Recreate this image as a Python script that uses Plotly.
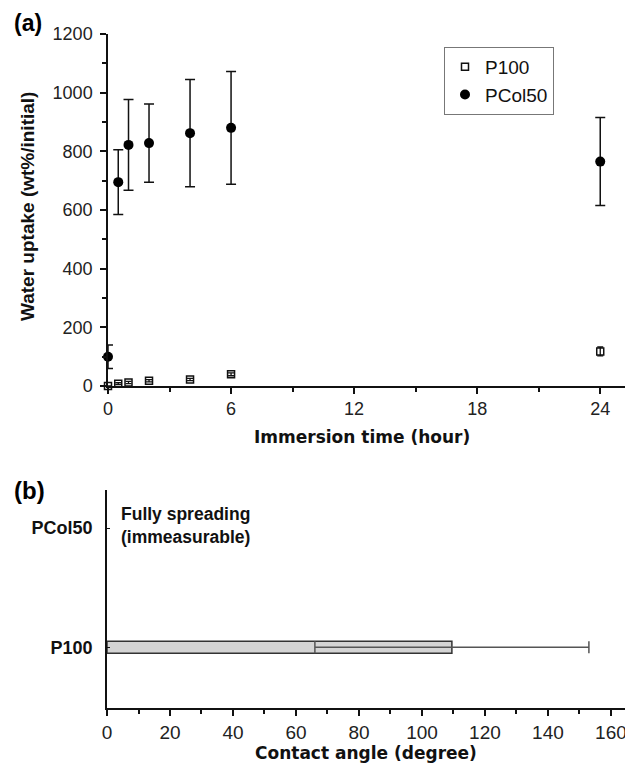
import plotly.graph_objects as go

# ---- data: panel (a) water uptake ----
time_h = [0, 0.5, 1, 2, 4, 6, 24]
pcol50 = [100, 695, 822, 828, 862, 880, 765]
pcol50_err = [40, 110, 155, 133, 183, 192, 150]
p100 = [0, 8, 12, 18, 22, 40, 118]
p100_err = [0, 3, 4, 4, 4, 5, 15]

# ---- data: panel (b) contact angle ----
materials = ["P100", "PCol50"]
contact_angle = [109.5]
contact_err = [43.5]

W, H = 633, 773
OFF = 8  # page body margin offset


def px_x(p):
    return (p - OFF) / W


def px_y(p):
    return 1 - (p - OFF) / H


TICKFONT = dict(family="Liberation Sans, Arial", size=18, color="#222")
TICKFONT_B = dict(family="Liberation Sans, Arial", size=19, color="#222")
TITLEFONT = dict(family="DejaVu Sans, Verdana", size=17, color="#111")

fig = go.Figure()

fig.add_trace(go.Scatter(
    x=time_h, y=p100, mode="markers", name="P100",
    marker=dict(symbol="square-open", size=7, color="#111", line=dict(width=1.5)),
    error_y=dict(type="data", array=p100_err, color="#111", thickness=1.3, width=3),
    xaxis="x", yaxis="y", cliponaxis=False,
))
fig.add_trace(go.Scatter(
    x=time_h, y=pcol50, mode="markers", name="PCol50",
    marker=dict(symbol="circle", size=10, color="#000"),
    error_y=dict(type="data", array=pcol50_err, color="#111", thickness=1.5, width=5),
    xaxis="x", yaxis="y", cliponaxis=False,
))

fig.add_trace(go.Bar(
    y=[materials[0]], x=contact_angle, orientation="h", width=0.1,
    marker=dict(color="#d4d4d4", line=dict(color="#333", width=1.5)),
    error_x=dict(type="data", array=contact_err, color="#555", thickness=1.5, width=6),
    xaxis="x2", yaxis="y2", showlegend=False,
))

axis_common = dict(showline=True, linecolor="#111", linewidth=1.5, showgrid=False,
                   zeroline=False, ticks="outside", tickcolor="#111", tickwidth=1.5,
                   automargin=False)

fig.update_layout(
    width=W, height=H, margin=dict(l=0, r=0, t=0, b=0, autoexpand=False),
    plot_bgcolor="white", paper_bgcolor="white",
    xaxis=dict(domain=[px_x(108), px_x(631)], range=[0, 25.5], tickvals=[0, 6, 12, 18, 24],
               ticklen=6, minor=dict(dtick=3, tick0=0, ticklen=4, ticks="outside", tickcolor="#111"),
               anchor="y", tickfont=TICKFONT, **axis_common),
    yaxis=dict(domain=[px_y(386), px_y(34)], range=[0, 1200], dtick=200, ticklen=6,
               minor=dict(dtick=100, ticklen=4, ticks="outside", tickcolor="#111"),
               anchor="x", tickfont=TICKFONT, ticklabelstandoff=4, **axis_common),
    xaxis2=dict(domain=[px_x(107), px_x(633)], range=[0, 167], dtick=20, ticklen=6,
                minor=dict(dtick=10, ticklen=4, ticks="outside", tickcolor="#111"),
                anchor="y2", tickfont=TICKFONT_B, **axis_common),
    yaxis2=dict(domain=[px_y(708), px_y(490)], type="category", categoryarray=materials,
                categoryorder="array", range=[-0.51, 1.32], showline=True, linecolor="#111",
                linewidth=1.5, showgrid=False, zeroline=False, ticks="inside", ticklen=3,
                tickcolor="#111", ticklabelstandoff=9, automargin=False,
                tickfont=dict(family="Liberation Sans, Arial", size=18, color="#111", weight="bold"),
                anchor="x2"),
    legend=dict(x=px_x(444), y=px_y(47), xanchor="left", yanchor="top",
                bordercolor="#777", borderwidth=1, bgcolor="white",
                font=dict(family="Liberation Sans, Arial", size=19, color="#111"),
                itemwidth=30, tracegroupgap=4),
    bargap=0.5,
)

annotations = [
    dict(text="<b>(a)</b>", x=px_x(12), y=px_y(23), xanchor="left", yanchor="middle",
         font=dict(family="Liberation Sans, Arial", size=23, color="#000")),
    dict(text="<b>(b)</b>", x=px_x(12), y=px_y(490), xanchor="left", yanchor="middle",
         font=dict(family="Liberation Sans, Arial", size=24, color="#000")),
    dict(text="<b>Water uptake (wt%/initial)</b>", x=px_x(27), y=px_y(207), textangle=-90,
         xanchor="center", yanchor="middle",
         font=dict(family="Liberation Sans, Arial", size=19, color="#111")),
    dict(text="<b>Immersion time (hour)</b>", x=px_x(362), y=px_y(437), xanchor="center",
         yanchor="middle", font=TITLEFONT),
    dict(text="<b>Contact angle (degree)</b>", x=px_x(366), y=px_y(753), xanchor="center",
         yanchor="middle", font=TITLEFONT),
    dict(text="<b>Fully spreading<br>(immeasurable)</b>", x=px_x(119), y=px_y(525),
         xanchor="left", yanchor="middle", align="left",
         font=dict(family="Liberation Sans, Arial", size=17.5, color="#111")),
]
for a in annotations:
    a.update(xref="paper", yref="paper", showarrow=False)
fig.update_layout(annotations=annotations)

fig.write_html("out.html")
